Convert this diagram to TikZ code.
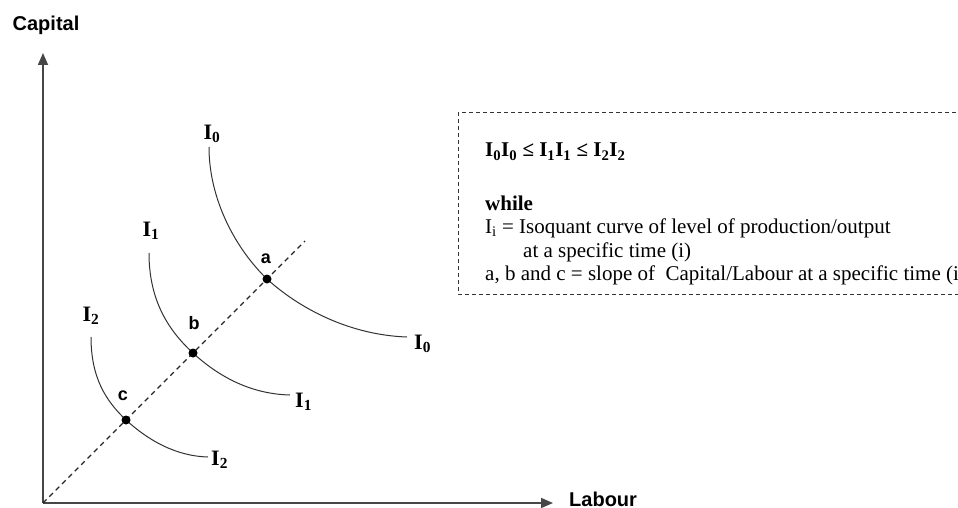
\documentclass[tikz,border=0pt]{standalone}
\usepackage{fontspec}
\setmainfont{Liberation Serif}
\newfontfamily\axisfont{Liberation Sans}
\usetikzlibrary{arrows.meta}
\definecolor{axisgray}{RGB}{70,70,70}
\definecolor{curvegray}{RGB}{50,50,50}
\begin{document}
\begin{tikzpicture}[x=1pt,y=-1pt,
  axisline/.style={line width=1.6pt,draw=axisgray,-{Triangle[length=12pt,width=10pt]}},
  isocurve/.style={line width=1pt,draw=curvegray},
  rayline/.style={line width=1.2pt,dash pattern=on 5pt off 4pt,draw=black!85},
  dotmark/.style={circle,fill=black,inner sep=0pt,minimum size=9pt},
  axislabel/.style={font=\axisfont\fontsize{20}{23}\selectfont\bfseries,inner sep=0pt},
  curvelabel/.style={font=\fontsize{22}{25}\selectfont\bfseries,inner sep=0pt},
  pointlabel/.style={font=\axisfont\fontsize{18}{21}\selectfont\bfseries,inner sep=0pt},
  boxtext/.style={font=\fontsize{21}{24}\selectfont,inner sep=0pt,anchor=base west},
  notebox/.style={draw=black!80,line width=1pt,dash pattern=on 4pt off 3pt}
]
\useasboundingbox (0,0) rectangle (958,508);
% axes
\coordinate (O) at (43,503);
\coordinate (Ytop) at (43,53);
\coordinate (Xend) at (553,503);
\draw[axisline] (O) -- (Ytop);
\draw[axisline] (O) -- (Xend);
\node[axislabel] (cap) at (46,25) {Capital};
\node[axislabel,anchor=west] (lab) at (569,499) {Labour};
% ray
\coordinate (R) at (305,241);
\coordinate (pa) at (267,279);
\coordinate (pb) at (193,353);
\coordinate (pc) at (126,420);
\draw[rayline] (O) -- (R);
% isoquants
\draw[isocurve] (209,147) .. controls (209,200) and (236,249) .. (pa)
  .. controls (300,309) and (350,335) .. (407,337);
\draw[isocurve] (149,253) .. controls (149,300) and (168,330) .. (pb)
  .. controls (218,376) and (250,394) .. (290,395);
\draw[isocurve] (91,337) .. controls (91,378) and (106,401) .. (pc)
  .. controls (148,440) and (175,456) .. (208,457);
% dots
\node[dotmark] (a) at (pa) {};
\node[dotmark] (b) at (pb) {};
\node[dotmark] (c) at (pc) {};
% point labels
\node[pointlabel] (la) at (266,259) {a};
\node[pointlabel] (lb) at (194,323) {b};
\node[pointlabel] (lc) at (123,396) {c};
% curve labels
\node[curvelabel] (i0t) at (212,134) {I\textsubscript{0}};
\node[curvelabel] (i1t) at (151,231) {I\textsubscript{1}};
\node[curvelabel] (i2t) at (91,316) {I\textsubscript{2}};
\node[curvelabel,anchor=west] (i0r) at (414,344) {I\textsubscript{0}};
\node[curvelabel,anchor=west] (i1r) at (295,402) {I\textsubscript{1}};
\node[curvelabel,anchor=west] (i2r) at (211,460) {I\textsubscript{2}};
% note box
\draw[notebox] (970,113) -- (458,113) -- (458,294) -- (970,294);
\node[boxtext] (t1) at (485,157) {\bfseries I\textsubscript{0}I\textsubscript{0} ≤ I\textsubscript{1}I\textsubscript{1} ≤ I\textsubscript{2}I\textsubscript{2}};
\node[boxtext] (t2) at (485,210) {\bfseries while};
\node[boxtext] (t3) at (485,233) {I\textsubscript{i} = Isoquant curve of level of production/output};
\node[boxtext] (t4) at (523,257) {at a specific time (i)};
\node[boxtext] (t5) at (485,280) {a, b and c = slope of\ \ Capital/Labour at a specific time (i)};
\end{tikzpicture}
\end{document}
